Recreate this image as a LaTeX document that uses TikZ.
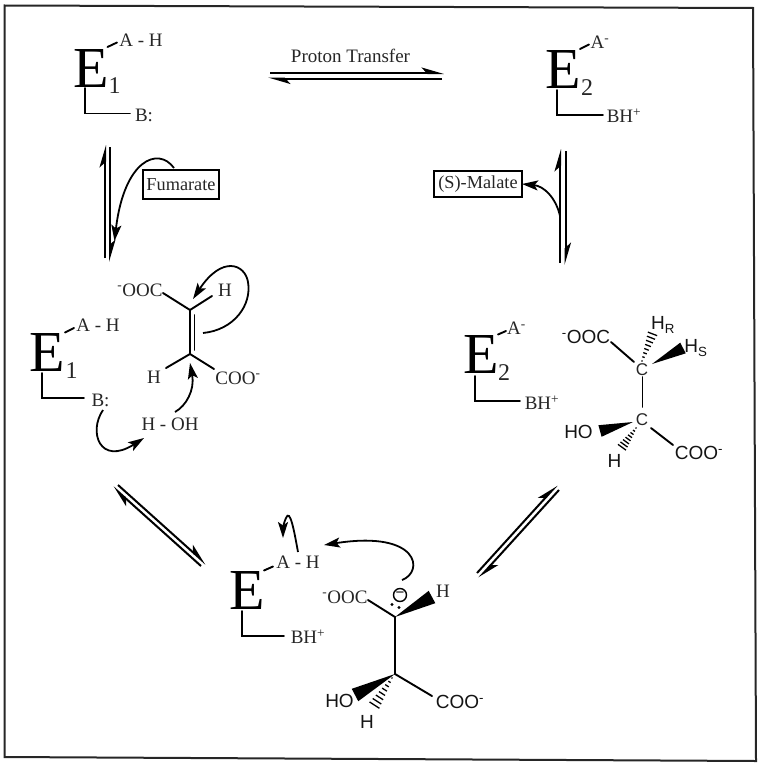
\documentclass[tikz,border=0pt]{standalone}
\usepackage{fontspec}
\setmainfont{Liberation Serif}
\newfontfamily\chemsans{Liberation Sans}
\usetikzlibrary{arrows.meta,calc}
\tikzset{
  lbl/.style={inner sep=0pt,outer sep=0pt,font=\fontsize{19}{21}\selectfont,text=black!85},
  sans/.style={inner sep=0pt,outer sep=0pt,font=\fontsize{19}{21}\selectfont\chemsans,text=black!92},
  subh/.style={inner sep=0pt,outer sep=0pt,font=\fontsize{17}{19}\selectfont\chemsans,text=black!85},
  bigE/.style={inner sep=0pt,outer sep=0pt,font=\fontsize{58}{60}\selectfont},
  subnum/.style={inner sep=0pt,outer sep=0pt,font=\fontsize{24}{26}\selectfont,text=black!85},
  boxed/.style={draw,line width=2pt,inner sep=0pt,outer sep=0pt,font=\fontsize{18.3}{21}\selectfont,text=black!85},
  bond/.style={line width=1.9pt,line cap=round},
  eqA/.style={line width=2pt,-{Stealth[harpoon,length=19pt,width=11pt,inset=5pt]}},
  curly/.style={line width=1.8pt,-{Stealth[length=16pt,width=10pt,inset=3.5pt]}},
}
\newcommand{\wedgebond}[3]{\fill[black] (#1) -- ($(#2)!#3!90:(#1)$) -- ($(#2)!#3!-90:(#1)$) -- cycle;}
\newcommand{\hashbond}[3]{%
  \foreach \t in {0,0.125,...,1.01}{%
    \coordinate (hp) at ($(#1)!\t!(#2)$);
    \pgfmathsetmacro{\hw}{0.6+\t*#3}
    \draw[line width=1.3pt] ($(hp)!\hw pt!90:(#2)$) -- ($(hp)!\hw pt!-90:(#2)$);
  }}
\begin{document}
\begin{tikzpicture}[x=1pt,y=-1pt]
\useasboundingbox (0,0) rectangle (758,768);
\coordinate (f1) at (4.5,5.5); \coordinate (f2) at (753,8); \coordinate (f3) at (756,761); \coordinate (f4) at (4.5,757);
\draw[line width=2pt,black!85] (f1) -- (f2) -- (f3) -- (f4) -- cycle;

% ---------- E1 top
\node[bigE] (e1t) at (91,69) {E};
\node[subnum] (e1tn) at (114.5,86) {1};
\node[lbl] (e1ta) at (141,40) {A - H};
\node[lbl] (e1tb) at (144,115.5) {B:};
\coordinate (e1tb1) at (107.5,47); \coordinate (e1tb2) at (117,42.5);
\draw[bond] (e1tb1) -- (e1tb2);
\coordinate (e1tc1) at (85,88); \coordinate (e1tc2) at (85,113.5); \coordinate (e1tc3) at (130,113.5);
\draw[bond] (e1tc1) -- (e1tc2) -- (e1tc3);

% ---------- E2 top
\node[bigE] (e2t) at (563,70) {E};
\node[subnum] (e2tn) at (587,88) {2};
\node[lbl] (e2ta) at (600,42) {A\textsuperscript{-}};
\node[lbl] (e2tb) at (624,116) {BH\textsuperscript{+}};
\coordinate (e2tb1) at (580,49); \coordinate (e2tb2) at (589,44.5);
\draw[bond] (e2tb1) -- (e2tb2);
\coordinate (e2tc1) at (557,90); \coordinate (e2tc2) at (557,115); \coordinate (e2tc3) at (603,115);
\draw[bond] (e2tc1) -- (e2tc2) -- (e2tc3);

% ---------- proton transfer
\node[lbl] (pt) at (350.5,56) {Proton Transfer};
\coordinate (pa1) at (270,73); \coordinate (pa2) at (444,73);
\coordinate (pb1) at (442,78.5); \coordinate (pb2) at (268,78.5);
\draw[eqA] (pa1) -- (pa2);
\draw[eqA] (pb1) -- (pb2);

% ---------- left vertical
\coordinate (la1) at (105,258); \coordinate (la2) at (105,145);
\coordinate (lb1) at (110,147); \coordinate (lb2) at (110,262);
\draw[eqA] (la1) -- (la2);
\draw[eqA] (lb1) -- (lb2);
\node[boxed,minimum width=76pt,minimum height=29pt] (fum) at (181,184.5) {Fumarate};
\coordinate (fumS) at (174,168);
\coordinate (fumT) at (114.5,241);
\draw[curly] (fumS) .. controls (158,146) and (124,160) .. (fumT);

% ---------- right vertical
\coordinate (ra1) at (560,263); \coordinate (ra2) at (560,149);
\coordinate (rb1) at (565.5,151); \coordinate (rb2) at (565.5,265);
\draw[eqA] (ra1) -- (ra2);
\draw[eqA] (rb1) -- (rb2);
\node[boxed,minimum width=88pt,minimum height=26pt] (mal) at (478,184) {(S)-Malate};
\coordinate (malS) at (560,216);
\draw[curly] (malS) .. controls (556,198) and (544,186) .. (mal.east);

% ---------- E1 + fumarate
\node[bigE] (e1m) at (47.5,353) {E};
\node[subnum] (e1mn) at (71.5,371) {1};
\node[lbl] (e1ma) at (98,325) {A - H};
\node[lbl] (e1mb) at (100.5,400) {B:};
\coordinate (e1mb1) at (65,332.5); \coordinate (e1mb2) at (74,328);
\draw[bond] (e1mb1) -- (e1mb2);
\coordinate (e1mc1) at (42,373); \coordinate (e1mc2) at (42,398); \coordinate (e1mc3) at (84,398);
\draw[bond] (e1mc1) -- (e1mc2) -- (e1mc3);
\node[lbl] (fo) at (140,290) {\textsuperscript{-}OOC};
\node[lbl] (fh1) at (225,290) {H};
\node[lbl] (fh2) at (154,377) {H};
\node[lbl] (fc) at (238,378) {COO\textsuperscript{-}};
\node[lbl] (hoh) at (170,424) {H - OH};
\coordinate (fc1) at (190,310); \coordinate (fc2) at (190,354);
\coordinate (fd1) at (194.5,315); \coordinate (fd2) at (194.5,350);
\coordinate (fo1) at (163,293); \coordinate (fh1b) at (212,296);
\coordinate (fh2b) at (166,368); \coordinate (fcb) at (214,369);
\draw[bond] (fo1) -- (fc1) -- (fh1b);
\draw[bond] (fh2b) -- (fc2) -- (fcb);
\draw[bond] (fc1) -- (fc2);
\draw[bond] (fd1) -- (fd2);
\coordinate (c1s) at (203,333); \coordinate (c1t) at (193,299);
\draw[curly] (c1s) .. controls (234,330) and (252,305) .. (248,282) .. controls (245,264) and (222,255) .. (c1t);
\coordinate (c2s) at (175,412); \coordinate (c2t) at (190,363);
\draw[curly] (c2s) .. controls (186,406) and (195,390) .. (c2t);
\coordinate (c3s) at (103,410); \coordinate (c3t) at (144,438);
\draw[curly] (c3s) .. controls (88,432) and (100,466) .. (c3t);

% ---------- E2 + malate
\node[bigE] (e2m) at (481,355) {E};
\node[subnum] (e2mn) at (504,373) {2};
\node[lbl] (e2ma) at (516.5,328) {A\textsuperscript{-}};
\node[lbl] (e2mb) at (542,403) {BH\textsuperscript{+}};
\coordinate (e2mb1) at (498,334.5); \coordinate (e2mb2) at (506,331);
\draw[bond] (e2mb1) -- (e2mb2);
\coordinate (e2mc1) at (475,376); \coordinate (e2mc2) at (475,401); \coordinate (e2mc3) at (520,401);
\draw[bond] (e2mc1) -- (e2mc2) -- (e2mc3);
\node[sans] (mo) at (586,337) {\textsuperscript{-}OOC};
\node[subh] (mc1) at (642,369.5) {C};
\node[subh] (mc2) at (642,420) {C};
\node[sans] (mhr) at (663,325) {H\textsubscript{R}};
\node[sans] (mhs) at (696,348) {H\textsubscript{S}};
\node[sans] (mho) at (578.5,432) {HO};
\node[sans] (mh) at (614.5,461) {H};
\node[sans] (mc) at (699,453) {COO\textsuperscript{-}};
\coordinate (mob) at (611,342); \coordinate (mc1b) at (634,362);
\draw[bond] (mob) -- (mc1b);
\coordinate (mm1) at (642.5,377); \coordinate (mm2) at (642.5,407);
\draw[bond] (mm1) -- (mm2);
\coordinate (mcb1) at (651,428); \coordinate (mcb2) at (673,445);
\draw[bond] (mcb1) -- (mcb2);
\coordinate (mw1) at (652,364); \coordinate (mw2) at (683,348);
\wedgebond{mw1}{mw2}{6pt}
\coordinate (mw3) at (633,422); \coordinate (mw4) at (600,431);
\wedgebond{mw3}{mw4}{6pt}
\coordinate (mh1) at (642,361); \coordinate (mh2) at (654,330);
\hashbond{mh1}{mh2}{5}
\coordinate (mh3) at (636,428); \coordinate (mh4) at (620,450);
\hashbond{mh3}{mh4}{5}

% ---------- E + carbanion
\node[bigE] (em) at (247,591) {E};
\node[lbl] (ema) at (298,562) {A - H};
\node[lbl] (emb) at (308,637) {BH\textsuperscript{+}};
\coordinate (emb1) at (264,570.5); \coordinate (emb2) at (273,566.5);
\draw[bond] (emb1) -- (emb2);
\coordinate (emc1) at (242,611); \coordinate (emc2) at (242,636); \coordinate (emc3) at (284,636);
\draw[bond] (emc1) -- (emc2) -- (emc3);
\node[lbl] (co) at (345,597) {\textsuperscript{-}OOC};
\node[lbl] (ch) at (443,591) {H};
\node[sans] (cho) at (339.5,701) {HO};
\node[sans] (chh) at (367,722) {H};
\node[sans] (cc) at (460,702) {COO\textsuperscript{-}};
\node[circle,draw,line width=1.4pt,minimum size=13pt,inner sep=0pt,font=\fontsize{15}{15}\selectfont\chemsans] (minus) at (400,595) {−};
\fill (392,604.5) circle (1.7pt) coordinate (d1);
\fill (399,607.5) circle (1.7pt) coordinate (d2);
\coordinate (cc1) at (395,617); \coordinate (cc2) at (395,674);
\coordinate (cob) at (368,600); \coordinate (ccb) at (432,696);
\draw[bond] (cob) -- (cc1) -- (cc2) -- (ccb);
\coordinate (cw1) at (432,597); \coordinate (cw2) at (355,695);
\wedgebond{cc1}{cw1}{7pt}
\wedgebond{cc2}{cw2}{7pt}
\coordinate (chh1) at (392,678); \coordinate (chh2) at (372,709);
\hashbond{chh1}{chh2}{6}
\coordinate (c4s) at (402,580); \coordinate (c4t) at (324,545);
\draw[curly] (c4s) .. controls (424,572) and (420,530) .. (c4t);
\coordinate (c5s) at (298,552); \coordinate (c5t) at (283,538);
\draw[curly] (c5s) .. controls (294,530) and (290,508) .. (286,518) .. controls (284,522) and (283,528) .. (c5t);

% ---------- diagonal equilibria
\coordinate (da1) at (118,485); \coordinate (da2) at (206,564);
\coordinate (db1) at (201,566); \coordinate (db2) at (113,487);
\draw[eqA] (da1) -- (da2);
\draw[eqA] (db1) -- (db2);
\coordinate (ga1) at (477,573); \coordinate (ga2) at (557,485);
\coordinate (gb1) at (559,490); \coordinate (gb2) at (479,578);
\draw[eqA] (ga1) -- (ga2);
\draw[eqA] (gb1) -- (gb2);
\end{tikzpicture}
\end{document}
